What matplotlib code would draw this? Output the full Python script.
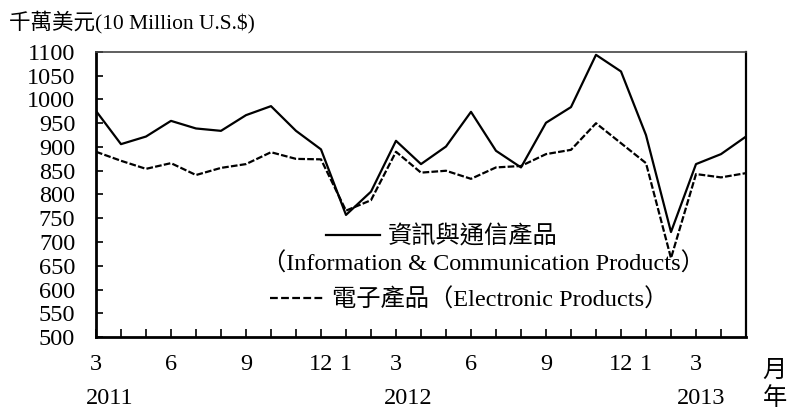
import matplotlib
matplotlib.use('Agg')
import matplotlib.pyplot as plt
from matplotlib.lines import Line2D
import numpy as np

# monthly values, 2011/03 .. 2013/05 (unit: 10 million US$)
ict = [976, 906, 922, 955, 939, 934, 967, 986, 934, 895,
       757, 806, 913, 864, 901, 974, 892, 857, 951, 984,
       1094, 1059, 925, 721, 864, 885, 922]
elec = [890, 871, 854, 866, 841, 856, 864, 889, 875, 874,
        766, 788, 890, 846, 850, 833, 857, 860, 885, 894,
        950, 908, 866, 666, 843, 836, 845]
month_ticks = [0, 3, 6, 9, 10, 12, 15, 18, 21, 22, 24]
month_labels = ['3', '6', '9', '12', '1', '3', '6', '9', '12', '1', '3']
year_pos = [0.55, 12.5, 24.2]
year_labels = ['2011', '2012', '2013']

matplotlib.rcParams['font.family'] = ['Liberation Serif', 'Noto Sans CJK TC']
matplotlib.rcParams['font.size'] = 17.5

fig, ax = plt.subplots(figsize=(7.88, 4.09), dpi=100)
fig.subplots_adjust(left=0.1218, right=0.9467, top=0.8729, bottom=0.176)

x = np.arange(len(ict))
ax.plot(x, ict, color='black', lw=1.6)
ax.plot(x, elec, color='black', lw=1.6, linestyle=(0, (3, 1)))

ax.set_xlim(0, len(ict) - 1)
ax.set_ylim(500, 1100)
ax.set_yticks(np.arange(500, 1101, 50))
ax.set_xticks(np.arange(0, len(ict) - 1))
ax.set_xticklabels([month_labels[month_ticks.index(i)] if i in month_ticks else ''
                    for i in range(len(ict) - 1)])
ax.tick_params(axis='y', direction='in', length=5, width=1.2, pad=15)
ax.tick_params(axis='x', direction='in', length=6, width=1.2, pad=12)

ax.spines['left'].set_linewidth(2)
ax.spines['bottom'].set_linewidth(2)
ax.spines['right'].set_linewidth(1.6)
ax.spines['top'].set_linewidth(1.2)
ax.spines['top'].set_color('#444444')

for p, lab in zip(year_pos, year_labels):
    ax.text(p, -0.215, lab, transform=ax.get_xaxis_transform(),
            ha='center', va='center', clip_on=False)
ax.text(27.15, -0.12, '月', transform=ax.get_xaxis_transform(),
        ha='center', va='center', clip_on=False)
ax.text(27.15, -0.215, '年', transform=ax.get_xaxis_transform(),
        ha='center', va='center', clip_on=False)

fig.text(0.012, 0.945, '千萬美元(10 Million U.S.$)', ha='left', va='center',
         fontsize=15.5)

h1 = [Line2D([], [], color='black', lw=1.6)]
h2 = [Line2D([], [], color='black', lw=1.6, linestyle=(0, (3.5, 1.5)))]
leg1 = ax.legend(h1, ['資訊與通信產品'], loc='center left',
                 bbox_to_anchor=(0.354, 0.351), frameon=False,
                 borderpad=0, borderaxespad=0, handlelength=2.2,
                 handletextpad=0.35)
ax.add_artist(leg1)
ax.legend(h2, ['電子產品（Electronic Products）'], loc='center left',
          bbox_to_anchor=(0.268, 0.13), frameon=False,
          borderpad=0, borderaxespad=0, handlelength=2.2,
          handletextpad=0.35)
ax.text(0.255, 0.256, '（Information & Communication Products）',
        transform=ax.transAxes, ha='left', va='center')

fig.savefig('out.png', dpi=100)
